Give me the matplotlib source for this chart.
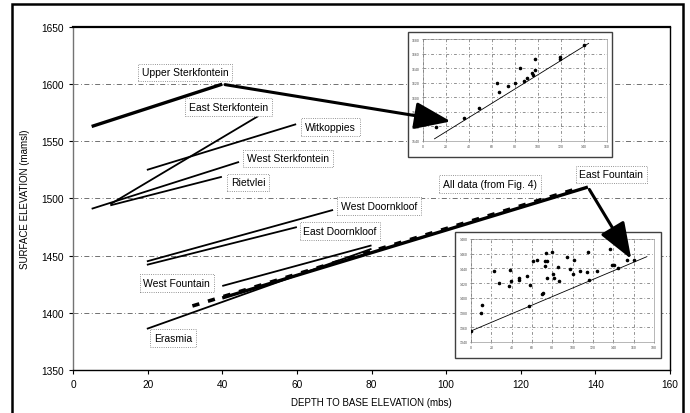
import matplotlib
matplotlib.use('Agg')
import matplotlib.pyplot as plt
from matplotlib.patches import FancyArrowPatch, Rectangle

plt.rcParams['font.family'] = ['Liberation Sans', 'DejaVu Sans']

# main trend lines: (x0, y0, x1, y1) in data units
lines = {
    'Upper Sterkfontein': ([5, 40], [1563, 1600]),
    'East Sterkfontein': ([10, 49.6], [1495, 1572]),
    'Witkoppies': ([19.8, 59.8], [1525, 1565]),
    'West Sterkfontein': ([5, 44.5], [1491, 1532]),
    'Rietvlei': ([10, 39.9], [1494, 1519]),
    'West Doornkloof': ([19.8, 69.7], [1445, 1490]),
    'East Doornkloof': ([19.8, 60], [1442, 1475]),
    'West Fountain': ([40, 80], [1423.5, 1459]),
    'Erasmia': ([19.8, 80], [1386, 1456]),
    'East Fountain': ([40, 138], [1413, 1510]),
}
alldata_x = [32, 136]
alldata_y = [1406, 1509.5]

thick = ['Upper Sterkfontein', 'East Fountain']

# label text positions (left edge, centre)
label_names = ['Upper Sterkfontein', 'East Sterkfontein', 'Witkoppies', 'West Sterkfontein',
               'Rietvlei', 'West Doornkloof', 'East Doornkloof', 'West Fountain', 'Erasmia',
               'All data (from Fig. 4)', 'East Fountain']
label_x = [18.5, 31.1, 62.2, 46.6, 42.3, 71.8, 61.7, 18.8, 21.7, 99.2, 135.7]
label_y = [1610.5, 1580, 1562.5, 1535, 1514, 1493.4, 1471.5, 1426, 1378, 1512.6, 1521]

# arrows from line ends to the insets
arrow_start = [(40, 1600), (138, 1510)]
arrow_end = [(102, 1567), (150, 1445)]

# inset 1 (Upper Sterkfontein data)
in1_x = [11, 36, 49, 66, 74, 64, 80, 84, 88, 90, 95, 96, 97, 97, 119, 119, 140]
in1_y = [1559, 1571, 1585, 1607, 1615, 1620, 1620, 1640, 1622, 1627, 1634, 1630, 1637, 1653,
         1655, 1652, 1672]
in1_fit_x = [10, 144]
in1_fit_y = [1543, 1674]

# inset 2 (East Fountain data)
in2_x = [11, 10, 23, 28, 38, 37, 39, 47, 47, 55, 58, 57, 61, 65, 70, 71, 73, 75, 73, 74, 80,
         75, 81, 82, 86, 87, 94, 97, 100, 101, 107, 114, 115, 116, 124, 137, 139, 141, 145,
         153, 160, 0]
in2_y = [1390, 1379, 1437, 1420, 1438, 1416, 1423, 1427, 1424, 1430, 1417, 1389, 1450, 1451,
         1405, 1406, 1450, 1450, 1443, 1461, 1463, 1427, 1433, 1427, 1442, 1423, 1455, 1439,
         1433, 1451, 1437, 1435, 1463, 1424, 1437, 1466, 1445, 1445, 1441, 1451, 1451, 1355]
in2_fit_x = [0, 173]
in2_fit_y = [1355, 1456]

W, H = 690, 414
fig = plt.figure(figsize=(6.9, 4.14), dpi=100)
ax = fig.add_axes([73 / W, 1 - 371 / H, (670 - 73) / W, (371 - 28) / H])

for yg in [1400, 1450, 1500, 1550, 1600]:
    ax.axhline(yg, color='0.35', lw=0.6, ls=(0, (6, 3, 1, 3)), zorder=1)

for name, (xs, ys) in lines.items():
    ax.plot(xs, ys, color='black', lw=2.4 if name in thick else 1.3,
            solid_capstyle='butt', zorder=3)
ax.plot(alldata_x, alldata_y, color='black', lw=2.6, ls=(0, (2, 2.5)), zorder=3)

for t, x, y in zip(label_names, label_x, label_y):
    ax.text(x, y, t, fontsize=7.5, va='center', ha='left', zorder=5,
            bbox=dict(boxstyle='square,pad=0.35', fc='white', ec='0.45', lw=0.6, ls=':'))

ax.set_xlim(0, 160)
ax.set_ylim(1350, 1650)
ax.set_xticks(range(0, 161, 20))
ax.set_yticks(range(1350, 1651, 50))
ax.tick_params(labelsize=7.3, length=3, width=0.8, direction='out')
ax.set_xlabel('DEPTH TO BASE ELEVATION (mbs)', fontsize=7, labelpad=6)
ax.set_ylabel('SURFACE ELEVATION (mamsl)', fontsize=7, labelpad=8)
for s in ax.spines.values():
    s.set_linewidth(1.0)
ax.spines['top'].set_linewidth(1.6)
ax.spines['left'].set_color('0.45')


def make_inset(box, inner, xs, ys, fx, fy, xt, yt):
    # outer frame of the pasted small chart
    fig.add_artist(Rectangle((box[0] / W, 1 - box[3] / H), (box[2] - box[0]) / W,
                             (box[3] - box[1]) / H, transform=fig.transFigure,
                             fc='white', ec='0.25', lw=1.0, zorder=0.5))
    ia = fig.add_axes([inner[0] / W, 1 - inner[3] / H, (inner[2] - inner[0]) / W,
                       (inner[3] - inner[1]) / H])
    ia.set_zorder(0.6)
    ia.scatter(xs, ys, s=2.5, color='black', zorder=3)
    ia.plot(fx, fy, color='black', lw=0.6, zorder=3)
    ia.set_xlim(xt[0], xt[-1])
    ia.set_ylim(yt[0], yt[-1])
    ia.set_xticks(xt)
    ia.set_yticks(yt)
    ia.tick_params(labelsize=2.5, length=1, width=0.4, pad=1.5, colors='0.3')
    ia.grid(True, color='0.4', lw=0.5, ls=(0, (4, 3, 1, 3)))
    for s in ia.spines.values():
        s.set_linewidth(0.4)
        s.set_color('0.5')
    return ia


make_inset((408, 33, 612, 158), (423, 40, 607, 142), in1_x, in1_y, in1_fit_x, in1_fit_y,
           list(range(0, 161, 20)), list(range(1540, 1681, 20)))
make_inset((455, 233, 661, 359), (471, 240, 654, 343), in2_x, in2_y, in2_fit_x, in2_fit_y,
           list(range(0, 181, 20)), list(range(1340, 1481, 20)))

for a, b in zip(arrow_start, arrow_end):
    fig.add_artist(FancyArrowPatch(a, b, transform=ax.transData,
                                   arrowstyle='-|>,head_length=1.6,head_width=0.6',
                                   mutation_scale=14, color='black', lw=2.2, zorder=5))

# outer frame of the figure
fig.add_artist(Rectangle((12 / W, -0.01), (683 - 12) / W, 1 - 5 / H + 0.01,
                         transform=fig.transFigure, fill=False, ec='black', lw=1.8,
                         zorder=6))

fig.savefig('out.png', dpi=100)
